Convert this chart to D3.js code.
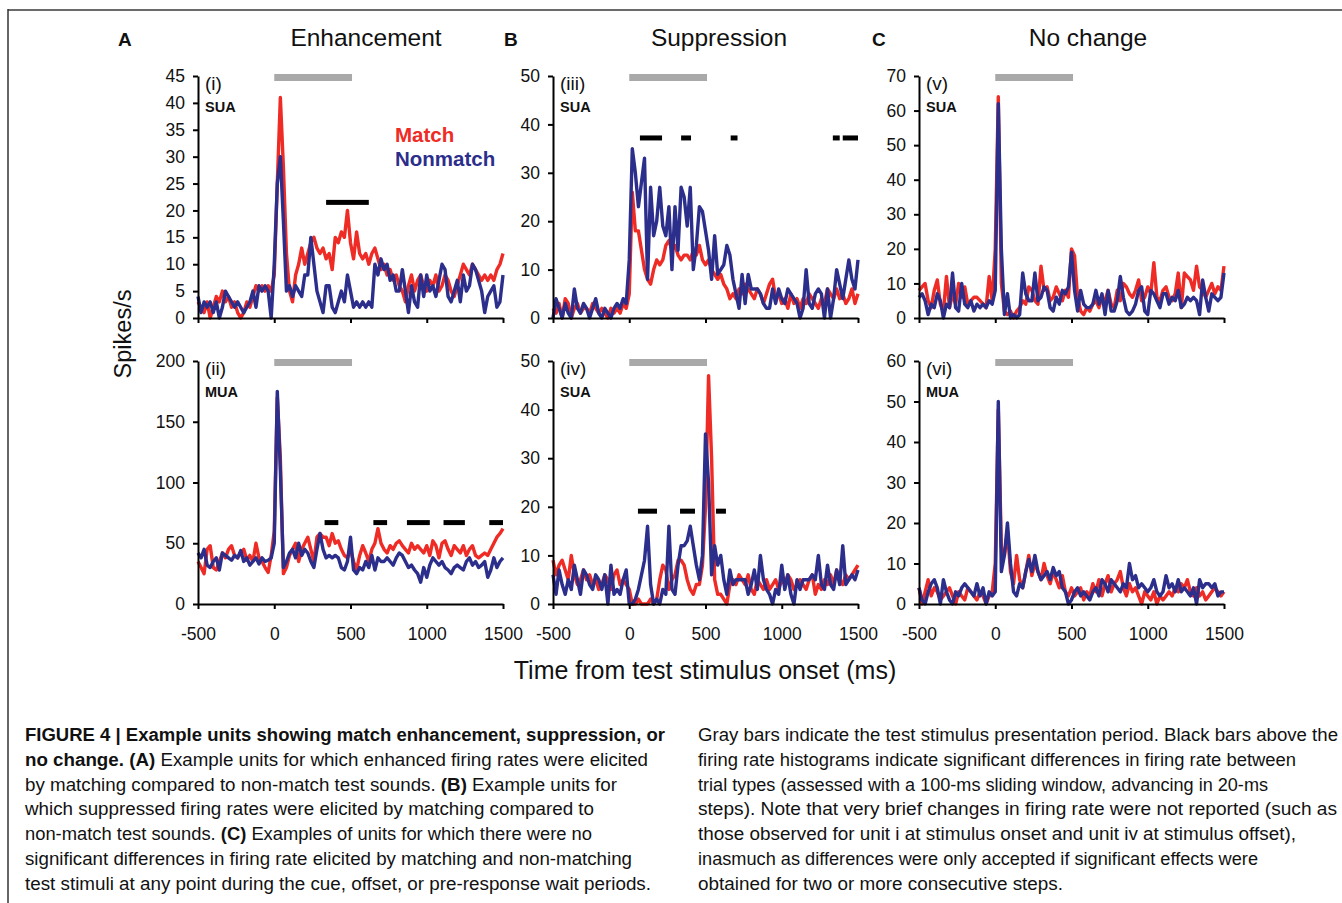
<!DOCTYPE html>
<html><head><meta charset="utf-8">
<script src="https://cdn.jsdelivr.net/npm/d3@7"></script>
<style>
body{margin:0;background:#fff;}
svg{display:block;}
text{font-family:Arial,"Liberation Sans",sans-serif;}
.cap{font-family:"Liberation Sans Narrow","Arial Narrow","Liberation Sans",sans-serif;font-size:17.5px;fill:#111;}
</style></head><body>
<svg id="fig" width="1342" height="903"></svg>
<script>
// ---------- DATA (20-ms bins, first bin at -500 ms) ----------
const binStart = -500, binWidth = 20;
const xTicks = [-500, 0, 500, 1000, 1500];
const stimPeriod = [0, 510];

const matchI = [3,2,1,3,0,2,4,3,5,3,4,2,3,1,0,1,3,2,4,6,5,6,5,6,5,
 8,25,41,28,12,5,3,8,10,13,
 10,12,14,15,13,12,13,11,12,9,
 15,14,16,15,20,14,11,16,12,11,
 12,10,12,13,11,9,10,8,9,7,
 8,6,5,3,6,8,5,7,8,6,
 5,7,6,8,5,6,8,7,5,4,
 6,8,10,9,8,10,9,8,7,8,
 7,8,7,9,10,12];
const nonmatchI = [4,1,3,2,3,1,3,0,2,5,4,3,2,3,2,1,2,3,5,2,6,5,6,5,0,
 10,25,30,18,5,6,4,6,5,4,
 8,8,15,10,5,3,1,6,6,2,
 1,3,5,3,8,5,2,3,2,3,
 2,3,2,10,8,11,9,10,7,8,
 5,5,9,5,1,6,3,2,8,4,
 8,5,6,4,7,10,9,4,3,5,
 7,3,8,5,6,10,9,7,5,1,
 4,5,6,2,3,8];

const matchII = [35,30,25,45,48,30,28,35,42,38,45,48,40,38,42,45,36,40,35,50,38,35,30,26,40,
 60,170,120,25,30,40,45,50,35,45,
 50,55,45,35,55,58,55,55,48,58,
 50,52,45,40,38,45,35,28,40,48,
 42,35,45,50,62,50,45,42,48,45,
 50,52,48,45,42,50,45,48,45,42,
 48,40,52,48,38,50,52,45,40,48,
 45,42,48,40,45,48,40,38,40,42,
 40,45,50,55,58,62];
const nonmatchII = [42,38,45,32,30,35,38,28,42,40,38,36,40,38,44,35,38,32,35,38,33,38,35,36,38,
 50,175,110,30,35,42,45,38,50,40,
 45,42,35,30,45,58,45,38,40,38,
 40,38,30,28,35,55,28,25,30,28,
 35,30,40,28,38,35,35,38,35,32,
 38,42,40,35,30,32,28,25,18,30,
 22,32,38,35,32,35,30,28,25,30,
 32,30,28,35,38,32,35,30,32,35,
 22,28,38,30,35,38];

const matchIII = [2,1,3,0,4,3,0,2,3,1,2,2,1,3,2,1,2,1,0,2,1,2,1,3,2,
 5,26,18,18,14,10,8,7,10,12,
 11,12,15,16,14,15,13,12,13,13,
 12,14,13,15,12,11,12,10,9,8,
 9,7,6,4,5,4,6,5,7,6,
 5,4,6,5,3,5,7,8,4,5,
 3,4,2,5,3,4,2,4,3,5,
 4,3,2,4,3,6,5,4,6,4,
 5,3,4,6,3,5];
const nonmatchIII = [0,4,2,0,3,1,0,6,2,1,3,2,0,2,4,1,0,2,1,0,2,3,2,4,3,
 12,35,30,23,28,33,8,27,17,20,
 27,19,17,23,10,23,14,27,25,19,
 27,10,15,23,22,18,14,8,17,9,
 10,11,15,13,8,5,2,9,3,9,
 6,6,6,5,3,2,2,6,3,6,
 4,3,6,5,4,3,0,2,10,3,
 2,5,6,5,0,6,0,4,10,7,
 4,8,12,8,6,12];

const matchIV = [9,6,8,9,7,5,10,6,4,5,7,5,6,4,5,3,4,6,5,3,6,7,4,5,4,
 3,0,0,1,0,0,0,1,0,1,
 5,8,7,3,5,6,9,9,8,5,
 3,2,4,4,8,20,47,30,5,2,
 2,1,0,4,5,4,6,5,4,6,
 3,2,5,4,3,5,3,4,5,3,
 5,4,6,5,3,4,5,4,3,5,
 6,2,4,3,5,4,6,4,7,5,
 4,6,5,6,7,8];
const nonmatchIV = [6,2,7,4,2,5,3,8,5,2,7,6,4,3,6,5,3,6,0,8,2,3,2,5,7,
 0,0,1,3,6,9,16,4,0,1,
 0,3,2,16,3,2,8,12,12,13,
 16,12,8,5,10,35,25,6,12,8,
 10,5,2,7,4,5,5,5,5,2,
 4,7,3,10,5,3,2,0,3,2,
 8,3,6,2,0,5,3,5,5,5,
 6,5,10,4,3,8,4,3,7,4,
 12,4,5,6,5,7];

const matchV = [8,9,10,5,3,8,11,4,2,12,3,7,4,10,6,9,4,5,6,6,5,4,3,12,5,
 20,64,10,2,1,2,0,2,3,5,
 4,9,8,5,4,15,8,9,5,6,
 9,7,5,8,6,20,18,6,2,1,
 3,2,4,5,3,6,5,8,4,3,
 8,5,10,9,7,6,8,11,5,6,
 9,7,16,6,5,8,9,6,5,7,
 13,3,13,12,11,8,15,9,8,6,
 8,10,7,9,8,15];
const nonmatchV = [6,7,5,1,4,3,7,5,0,4,3,13,3,2,10,4,3,5,2,4,3,4,3,5,4,
 8,62,20,1,7,0,1,0,1,13,
 7,5,5,13,5,6,9,8,3,2,
 6,4,8,7,9,19,8,2,8,4,
 3,3,4,8,4,7,1,8,2,2,
 5,12,6,2,1,2,4,8,9,2,
 1,8,7,5,3,7,7,4,6,5,
 8,3,4,6,5,6,5,1,11,6,
 2,7,6,5,6,13];

const matchVI = [4,0,3,6,2,4,3,1,2,3,4,2,0,3,2,1,4,3,2,1,3,2,0,2,3,
 10,48,14,12,18,8,5,12,6,4,
 8,12,7,10,8,6,10,7,5,8,
 6,4,7,3,2,4,2,3,4,1,
 3,2,5,3,6,2,5,7,3,5,
 6,8,4,2,5,3,4,2,0,3,
 2,1,3,0,2,1,2,3,2,4,
 3,5,4,6,3,2,4,2,3,1,
 2,3,4,3,2,3];
const nonmatchVI = [4,1,0,3,5,6,4,0,6,3,1,0,3,2,4,5,4,3,2,5,2,4,0,3,2,
 3,50,8,12,20,10,3,2,5,4,
 8,11,8,12,8,6,7,8,6,9,
 7,8,4,3,0,1,3,4,2,3,
 2,1,3,4,2,6,5,3,6,5,
 4,3,5,4,10,6,7,4,5,4,
 3,4,6,3,2,3,7,4,5,3,
 6,3,4,3,2,4,0,6,4,5,
 5,4,5,2,3,3];

// significance bars: [start ms, end ms]; level in spikes/s
const sigI = [[340,620]], sigILevel = 21.5;
const sigII = [[330,420],[650,740],[870,1020],[1110,1250],[1410,1500]], sigIILevel = 67;
const sigIII = [[70,215],[340,405],[665,710],[1335,1380],[1400,1500]], sigIIILevel = 37.2;
const sigIV = [[57,182],[333,431],[569,634]], sigIVLevel = 19.1;

const yMaxes = [45, 200, 50, 50, 70, 60];
const yStepsTick = [5, 50, 10, 10, 10, 10];
const panelNames = ["(i)","(ii)","(iii)","(iv)","(v)","(vi)"];
const unitTypes = ["SUA","MUA","SUA","SUA","SUA","MUA"];
const columnTitles = ["Enhancement","Suppression","No change"];
const columnLetters = ["A","B","C"];
const legendLabels = ["Match","Nonmatch"];

const captionLeft = [
 [["b","FIGURE 4 | Example units showing match enhancement, suppression, or"]],
 [["b","no change. "],["b","(A)"],["n"," Example units for which enhanced firing rates were elicited"]],
 [["n","by matching compared to non-match test sounds. "],["b","(B)"],["n"," Example units for"]],
 [["n","which suppressed firing rates were elicited by matching compared to"]],
 [["n","non-match test sounds. "],["b","(C)"],["n"," Examples of units for which there were no"]],
 [["n","significant differences in firing rate elicited by matching and non-matching"]],
 [["n","test stimuli at any point during the cue, offset, or pre-response wait periods."]]
];
const captionRight = [
 "Gray bars indicate the test stimulus presentation period. Black bars above the",
 "firing rate histograms indicate significant differences in firing rate between",
 "trial types (assessed with a 100-ms sliding window, advancing in 20-ms",
 "steps). Note that very brief changes in firing rate were not reported (such as",
 "those observed for unit i at stimulus onset and unit iv at stimulus offset),",
 "inasmuch as differences were only accepted if significant effects were",
 "obtained for two or more consecutive steps."
];
const captionLeftEnds = [665,648,617,594,592,632,651];
const captionRightEnds = [1338,1296,1268,1337,1296,1258,1063];

// ---------- LAYOUT ----------
const RED = "#ee2b25", BLUE = "#2c2e8c", GRAY = "#a9a9a9";
const colX = [198, 553, 919], plotW = 305;
const rowY = [[76,318],[361,604]];

const panels = [
 {col:0,row:0,m:matchI,n:nonmatchI,sig:sigI,sigL:sigILevel},
 {col:0,row:1,m:matchII,n:nonmatchII,sig:sigII,sigL:sigIILevel},
 {col:1,row:0,m:matchIII,n:nonmatchIII,sig:sigIII,sigL:sigIIILevel},
 {col:1,row:1,m:matchIV,n:nonmatchIV,sig:sigIV,sigL:sigIVLevel},
 {col:2,row:0,m:matchV,n:nonmatchV,sig:[],sigL:0},
 {col:2,row:1,m:matchVI,n:nonmatchVI,sig:[],sigL:0}
];

const svg = d3.select("#fig");
// frame
svg.append("line").attr("x1",8).attr("x2",1342).attr("y1",10).attr("y2",10).attr("stroke","#6a6a6a").attr("stroke-width",2);
svg.append("line").attr("x1",8).attr("x2",8).attr("y1",9).attr("y2",903).attr("stroke","#333").attr("stroke-width",1.5);

panels.forEach((p,i)=>{
  const x0 = colX[p.col], [yTop,yBot] = rowY[p.row];
  const x = d3.scaleLinear().domain([-500,1500]).range([x0, x0+plotW]);
  const y = d3.scaleLinear().domain([0,yMaxes[i]]).range([yBot,yTop]);
  const g = svg.append("g");

  // gray stimulus bar
  g.append("rect").attr("x",x(stimPeriod[0])).attr("width",x(stimPeriod[1])-x(stimPeriod[0]))
   .attr("y",yTop-2).attr("height",7).attr("fill",GRAY);

  // sig bars
  g.selectAll(".sig").data(p.sig).join("rect")
   .attr("x",d=>x(d[0])).attr("width",d=>x(d[1])-x(d[0]))
   .attr("y",y(p.sigL)-2.5).attr("height",5).attr("fill","#000");

  const line = d3.line().x((d,k)=>x(binStart+binWidth*k)).y(d=>y(d));
  g.append("path").datum(p.m).attr("d",line).attr("fill","none").attr("stroke",RED)
   .attr("stroke-width",3.4).attr("stroke-linejoin","round");
  g.append("path").datum(p.n).attr("d",line).attr("fill","none").attr("stroke",BLUE)
   .attr("stroke-width",3.4).attr("stroke-linejoin","round");

  // axes
  const yAx = g.append("g").attr("transform",`translate(${x0},0)`)
   .call(d3.axisLeft(y).tickValues(d3.range(0,yMaxes[i]+0.001,yStepsTick[i])).tickSize(5).tickSizeOuter(0).tickPadding(8)
     .tickFormat(d=>String(d)));
  const xAx = g.append("g").attr("transform",`translate(0,${yBot})`)
   .call(d3.axisBottom(x).tickValues(xTicks).tickSize(5).tickSizeOuter(0).tickPadding(25)
     .tickFormat(p.row===1 ? (d=>String(d)) : ""));
  [yAx,xAx].forEach(a=>{
    a.select(".domain").attr("stroke","#000").attr("stroke-width",2);
    a.selectAll(".tick line").attr("stroke","#000").attr("stroke-width",2);
    a.selectAll("text").attr("font-size",17.5).attr("fill","#111").attr("font-family","Arial, 'Liberation Sans', sans-serif");
  });
  xAx.selectAll("text").attr("dy","0.32em");

  // panel labels
  g.append("text").attr("x",x0+7).attr("y",yTop+14).attr("font-size",19).attr("fill","#111").text(panelNames[i]);
  g.append("text").attr("x",x0+7).attr("y",yTop+36).attr("font-size",14.5).attr("font-weight","bold").attr("fill","#111").text(unitTypes[i]);
});

// column titles
const titleX = [366, 719, 1088], letterX = [118, 504, 872];
columnTitles.forEach((t,i)=>{
  svg.append("text").attr("x",titleX[i]).attr("y",46).attr("text-anchor","middle").attr("font-size",24.5).attr("fill","#111").text(t);
  svg.append("text").attr("x",letterX[i]).attr("y",46).attr("font-size",19).attr("font-weight","bold").attr("fill","#111").text(columnLetters[i]);
});

// legend
svg.append("text").attr("x",395).attr("y",142).attr("font-size",20.5).attr("font-weight","bold").attr("fill",RED).text(legendLabels[0]);
svg.append("text").attr("x",395).attr("y",166).attr("font-size",20.5).attr("font-weight","bold").attr("fill",BLUE).text(legendLabels[1]);

// axis titles
svg.append("text").attr("transform","translate(131,334) rotate(-90)").attr("text-anchor","middle")
 .attr("font-size",23.5).attr("fill","#111").text("Spikes/s");
svg.append("text").attr("x",705).attr("y",679).attr("text-anchor","middle").attr("font-size",25).attr("fill","#111")
 .text("Time from test stimulus onset (ms)");

// caption
const baseY = 741, lineH = 24.8;
captionLeft.forEach((parts,k)=>{
  const t = svg.append("text").attr("class","cap").attr("x",25).attr("y",baseY+k*lineH)
    .attr("textLength",captionLeftEnds[k]-25).attr("lengthAdjust","spacingAndGlyphs");
  parts.forEach(([w,s])=>t.append("tspan").attr("font-weight",w==="b"?"bold":"normal").text(s));
});
captionRight.forEach((s,k)=>{
  svg.append("text").attr("class","cap").attr("x",698).attr("y",baseY+k*lineH)
    .attr("textLength",captionRightEnds[k]-698).attr("lengthAdjust","spacingAndGlyphs").text(s);
});
</script>
</body></html>
